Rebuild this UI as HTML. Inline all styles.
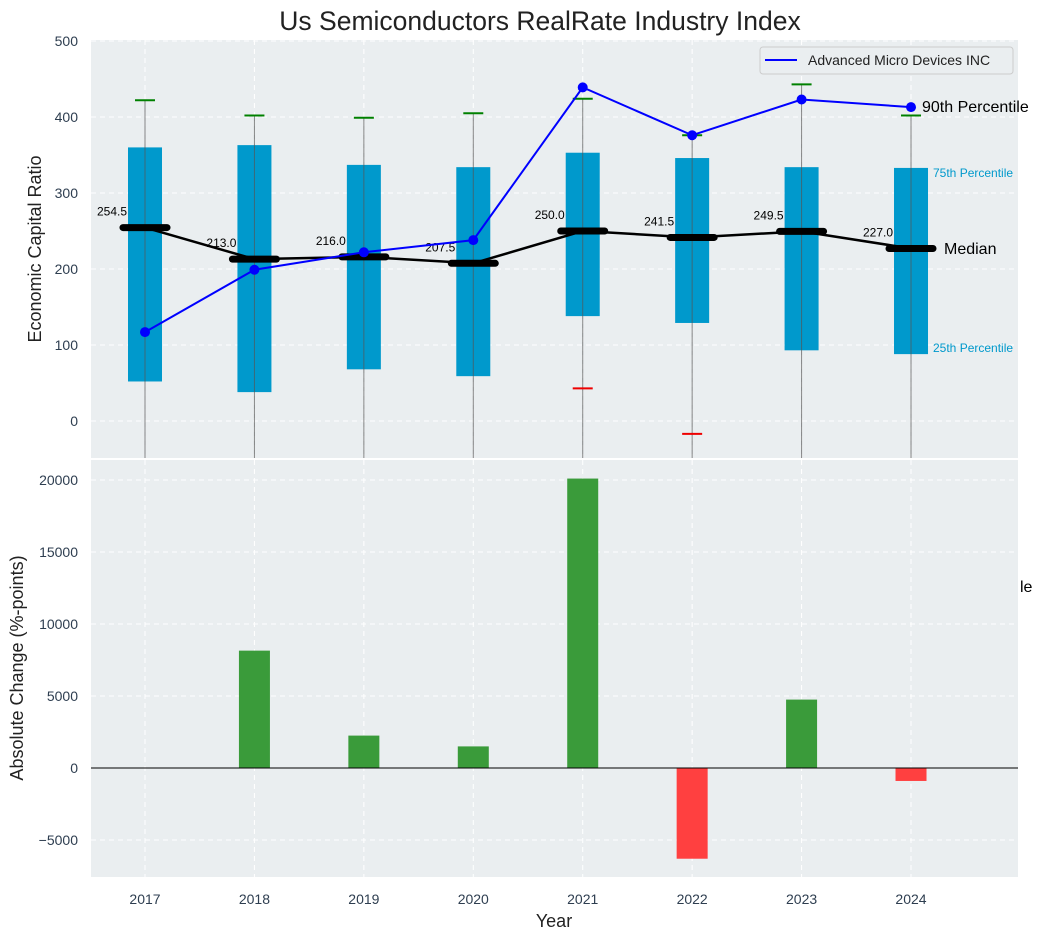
<!DOCTYPE html>
<html><head><meta charset="utf-8"><style>
body{margin:0;background:#fff;font-family:"Liberation Sans",sans-serif}
svg text{font-family:"Liberation Sans",sans-serif}
</style></head><body>
<svg id="c" width="1043" height="940" viewBox="0 0 1043 940" xmlns="http://www.w3.org/2000/svg">
<text x="540" y="30" font-size="26.5" text-anchor="middle" fill="#222">Us Semiconductors RealRate Industry Index</text>
</svg>
<script>
const years=['2017','2018','2019','2020','2021','2022','2023','2024'];
const q1=[52,38,68,59,138,129,93,88];
const q3=[360,363,337,334,353,346,334,333];
const p90=[422,402,399,405,424,376,443,402];
const p10=[null,null,null,null,43,-17,null,null];
const medians=[254.5,213,216,207.5,250,241.5,249.5,227];
const amd=[117,199,222,238,439,376,423,413];
const changes=[0,8150,2250,1500,20100,-6300,4750,-900];
const topTicks=[0,100,200,300,400,500];
const botTicks=[-5000,0,5000,10000,15000,20000];

const svg=document.getElementById('c');
const NS='http://www.w3.org/2000/svg';
function el(t,a,txt){const e=document.createElementNS(NS,t);for(const k in a)e.setAttribute(k,a[k]);if(txt!=null)e.textContent=txt;svg.appendChild(e);return e;}
const L=91,R=1018;
const x=i=>145+i*109.43;
const yT=v=>421-v*0.76;
const yB=v=>768-v*0.0144;
const T0=40,T1=458,B0=460,B1=877;

let p=el('rect',{x:L,y:T0,width:R-L,height:T1-T0,fill:'#eaeef0'});

p=el('rect',{x:L,y:B0,width:R-L,height:B1-B0,fill:'#eaeef0'});


topTicks.forEach(v=>{const y=yT(v);
 el('line',{x1:L,x2:R,y1:y,y2:y,stroke:'#fff','stroke-dasharray':'5,4'});
 const t=el('text',{x:L-13,y:y+5,'font-size':14,'text-anchor':'end',fill:'#2e3e50'},v);
 });
botTicks.forEach(v=>{const y=yB(v);
 el('line',{x1:L,x2:R,y1:y,y2:y,stroke:'#fff','stroke-dasharray':'5,4'});
 const t=el('text',{x:L-13,y:y+5,'font-size':14,'text-anchor':'end',fill:'#2e3e50'},v<0?'\u2212'+(-v):v);
 });
years.forEach((yr,i)=>{const xx=x(i);
 el('line',{x1:xx,x2:xx,y1:T0,y2:T1,stroke:'#fff','stroke-dasharray':'5,4'});
 el('line',{x1:xx,x2:xx,y1:B0,y2:B1,stroke:'#fff','stroke-dasharray':'5,4'});
 const t=el('text',{x:xx,y:904,'font-size':14,'text-anchor':'middle',fill:'#2e3e50'},yr);
 });

years.forEach((yr,i)=>{const xx=x(i);
 const b=el('rect',{x:xx-17,y:yT(q3[i]),width:34,height:yT(q1[i])-yT(q3[i]),fill:'#0099cc'});
 
 el('line',{x1:xx,x2:xx,y1:yT(p90[i]),y2:T1,stroke:'#555','stroke-width':1,opacity:0.7});
 const w=el('line',{x1:xx-10,x2:xx+10,y1:yT(p90[i]),y2:yT(p90[i]),stroke:'#008000','stroke-width':2});
 
 if(p10[i]!=null){const r=el('line',{x1:xx-10,x2:xx+10,y1:yT(p10[i]),y2:yT(p10[i]),stroke:'#e00','stroke-width':2});
 }
});
let pl=el('polyline',{points:medians.map((m,i)=>x(i)+','+yT(m)).join(' '),fill:'none',stroke:'#000','stroke-width':2.5});

medians.forEach((m,i)=>{const xx=x(i);
 const s=el('line',{x1:xx-22,x2:xx+22,y1:yT(m),y2:yT(m),stroke:'#000','stroke-width':7,'stroke-linecap':'round'});
 
 const t=el('text',{x:xx-18,y:yT(m)-12,'font-size':12,'text-anchor':'end',fill:'#000'},m.toFixed(1));
 });
pl=el('polyline',{points:amd.map((v,i)=>x(i)+','+yT(v)).join(' '),fill:'none',stroke:'#0000ff','stroke-width':2});

amd.forEach((v,i)=>{const c=el('circle',{cx:x(i),cy:yT(v),r:5,fill:'#0000ff'});
 });
const ann=[[922,112,16,'#000','90th Percentile'],[944,254,16,'#000','Median'],[933,177,12,'#0099cc','75th Percentile'],[933,352,12,'#0099cc','25th Percentile'],[1020,592,16,'#000','le']];
ann.forEach(a=>{const t=el('text',{x:a[0],y:a[1],'font-size':a[2],fill:a[3]},a[4]);
 });
const lg=el('rect',{x:760,y:47,width:253,height:27,rx:3,fill:'#eaeef0',stroke:'#ccc'});

el('line',{x1:765,x2:797,y1:60,y2:60,stroke:'#0000ff','stroke-width':2});
let lt=el('text',{x:808,y:65,'font-size':14,fill:'#222'},'Advanced Micro Devices INC');

changes.forEach((v,i)=>{const y0=yB(0),y1=yB(v);
 const b=el('rect',{x:x(i)-15.5,y:Math.min(y0,y1),width:31,height:Math.abs(y1-y0),fill:v>=0?'#3a9b3a':'#ff4040'});
 });
el('line',{x1:L,x2:R,y1:yB(0),y2:yB(0),stroke:'#000','stroke-width':1});
let t=el('text',{x:0,y:0,'font-size':18,'text-anchor':'middle',fill:'#222',transform:'translate(41,249) rotate(-90)'},'Economic Capital Ratio');

t=el('text',{x:0,y:0,'font-size':18,'text-anchor':'middle',fill:'#222',transform:'translate(23,668) rotate(-90)'},'Absolute Change (%-points)');

t=el('text',{x:554,y:927,'font-size':18,'text-anchor':'middle',fill:'#222'},'Year');

</script>
</body></html>
